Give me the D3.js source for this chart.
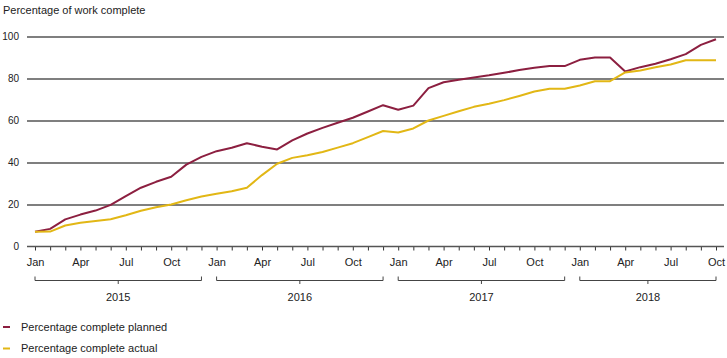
<!DOCTYPE html>
<html><head><meta charset="utf-8">
<script src="https://cdn.jsdelivr.net/npm/d3@7"></script>
<style>
body{margin:0;background:#fff;}
svg text{font-family:"Liberation Sans",Arial,sans-serif;fill:#222;}
</style></head><body>
<svg id="c" width="727" height="358"></svg>
<script>
const years = [2015, 2016, 2017, 2018];
const monthNames = ["Jan","Feb","Mar","Apr","May","Jun","Jul","Aug","Sep","Oct","Nov","Dec"];
const months = [];
years.forEach(y => monthNames.forEach((m, i) => { if (!(y === 2018 && i > 9)) months.push(y + "-" + m); }));
const yTicks = [0, 20, 40, 60, 80, 100];
const planned = [7, 8.4, 12.9, 15.2, 17.1, 19.8, 24, 28, 30.8, 33.2, 39, 42.7,
  45.4, 47, 49.2, 47.5, 46.2, 50.5, 53.8, 56.5, 58.9, 61.3, 64.3, 67.3,
  65.1, 67.1, 75.4, 78.2, 79.4, 80.5, 81.5, 82.7, 84, 85.1, 85.9, 85.9,
  88.9, 90, 90, 83.3, 85.4, 87, 89.2, 91.6, 96, 98.7];
const actual = [7, 7.1, 10, 11.3, 12.1, 13, 14.9, 17, 18.7, 20, 22, 23.8,
  25.1, 26.3, 28, 34, 39.4, 42.2, 43.5, 45, 47.1, 49.2, 52.1, 55,
  54.3, 56.2, 60, 62.2, 64.4, 66.5, 68, 69.7, 71.7, 73.8, 75.1, 75.1,
  76.7, 78.7, 78.7, 82.9, 83.8, 85.4, 86.7, 88.7, 88.7, 88.7];
const seriesNames = ["Percentage complete planned", "Percentage complete actual"];
const colors = ["#8c1f40", "#e2b715"];

const svg = d3.select("#c");
const x = d3.scalePoint().domain(months).range([35, 716]);
const y = d3.scaleLinear().domain([0, 100]).range([246.5, 36.5]);

svg.append("text").attr("x", 3).attr("y", 14).style("font-size", "11px").text("Percentage of work complete");

// gridlines
const yAxis = d3.axisLeft(y).tickValues(yTicks.filter(d => d > 0)).tickSize(-697).tickPadding(8);
const gy = svg.append("g").attr("transform", "translate(27,0)").call(yAxis);
gy.select(".domain").remove();
gy.selectAll(".tick line").attr("stroke", "#555").attr("stroke-width", 1.3).attr("transform", "translate(0,0)");
gy.selectAll(".tick text").style("font-size", "10px").attr("x", -8);
// zero label
svg.append("text").attr("x", 19).attr("y", y(0)).attr("dy", "0.35em").attr("text-anchor", "end")
  .style("font-size", "10px").text(yTicks[0]);

// x baseline & ticks
const xAxis = d3.axisBottom(x).tickSize(4).tickFormat(d => {
  const m = d.split("-")[1];
  return ["Jan","Apr","Jul","Oct"].includes(m) ? m : "";
}).tickPadding(8);
const gx = svg.append("g").attr("transform", "translate(0," + y(0) + ")").call(xAxis);
gx.select(".domain").remove();
gx.selectAll(".tick line").attr("stroke", "#333").attr("stroke-width", 1);
gx.selectAll(".tick text").style("font-size", "11px");
svg.append("line").attr("x1", 27).attr("x2", 724).attr("y1", y(0)).attr("y2", y(0))
  .attr("stroke", "#555").attr("stroke-width", 1.3);

// year brackets
years.forEach(yr => {
  const ms = months.filter(m => m.startsWith(yr + "-"));
  const x0 = x(ms[0]), x1 = x(ms[ms.length - 1]), xc = (x0 + x1) / 2;
  svg.append("path").attr("d", `M${x0},276.5V280.5H${x1}V276.5M${xc},280.5V284`)
    .attr("fill", "none").attr("stroke", "#444").attr("stroke-width", 1);
  svg.append("text").attr("x", xc).attr("y", 301).attr("text-anchor", "middle")
    .style("font-size", "11px").text(yr);
});

// lines
const line = d3.line().x((d, i) => x(months[i])).y(d => y(d));
[planned, actual].forEach((s, k) => {
  svg.append("path").datum(s).attr("d", line).attr("fill", "none")
    .attr("stroke", colors[k]).attr("stroke-width", 2).attr("stroke-linejoin", "round");
});

// legend
seriesNames.forEach((n, k) => {
  const ly = 327 + k * 21.5;
  svg.append("line").attr("x1", 3).attr("x2", 10).attr("y1", ly).attr("y2", ly)
    .attr("stroke", colors[k]).attr("stroke-width", 2);
  svg.append("text").attr("x", 21).attr("y", ly).attr("dy", "0.35em").style("font-size", "11px").text(n);
});
</script>
</body></html>
